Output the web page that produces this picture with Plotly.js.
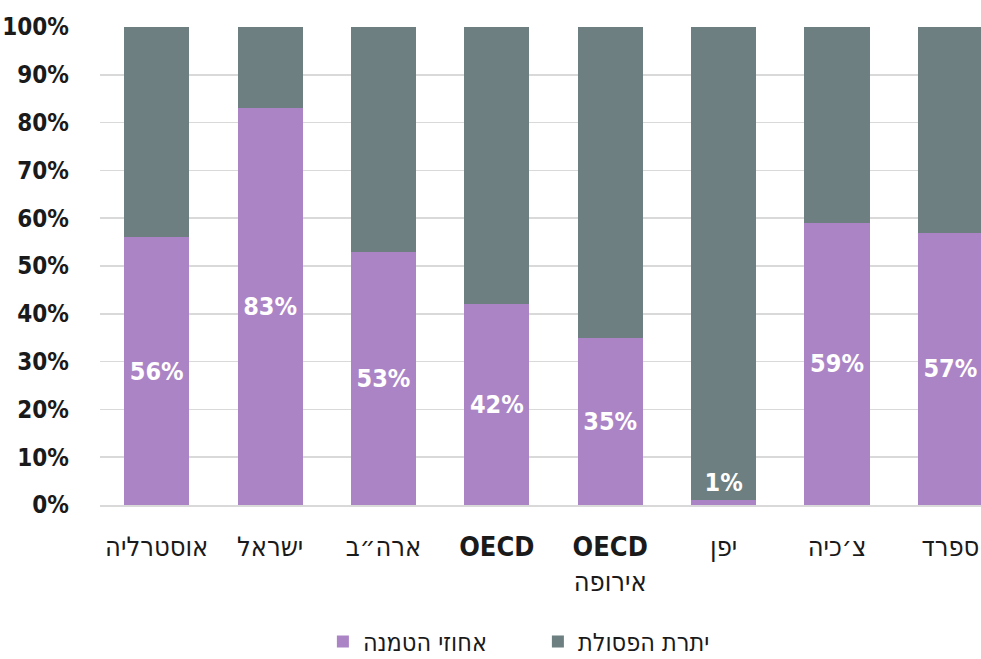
<!DOCTYPE html>
<html>
<head>
<meta charset="utf-8">
<script src="https://cdn.plot.ly/plotly-3.0.1.min.js"></script>
<style>
html,body{margin:0;padding:0;background:#fff;overflow:hidden}
svg text{font-stretch:condensed !important;}
</style>
</head>
<body>
<div id="chart" style="width:981px;height:659px"></div>
<script>
const categories = ['אוסטרליה', 'ישראל', 'ארה״ב', '<b>OECD</b>', '<b>OECD</b><br>אירופה', 'יפן', 'צ׳כיה', 'ספרד'];
const landfillPct = [56, 83, 53, 42, 35, 1, 59, 57];
const restPct = [44, 17, 47, 58, 65, 99, 41, 43];
const landfillName = 'אחוזי הטמנה';
const restName = 'יתרת הפסולת';
const yTicks = [0, 10, 20, 30, 40, 50, 60, 70, 80, 90, 100];
const yTickText = ['0%', '10%', '20%', '30%', '40%', '50%', '60%', '70%', '80%', '90%', '100%'];

const FONT = '"DejaVu Sans", sans-serif';
const PURPLE = '#ab84c6';
const GREY = '#6d7f80';
const SMALL = 5;

const labelFont = {family: FONT, size: 25, color: '#ffffff', weight: 'bold'};

const traces = [
  {
    type: 'bar', name: landfillName, x: categories, y: landfillPct,
    marker: {color: PURPLE},
    text: landfillPct.map(v => v < SMALL ? '' : v + '%'),
    textposition: 'inside',
    insidetextanchor: 'middle',
    constraintext: 'none',
    textfont: labelFont, insidetextfont: labelFont,
    hoverinfo: 'skip'
  },
  {
    type: 'bar', name: restName, x: categories, y: restPct,
    marker: {color: GREY},
    text: landfillPct.map(v => v < SMALL ? v + '%' : ''),
    textposition: 'inside',
    insidetextanchor: 'start',
    constraintext: 'none',
    textfont: labelFont, insidetextfont: labelFont,
    hoverinfo: 'skip'
  }
];

const layout = {
  width: 981, height: 659,
  barmode: 'stack',
  bargap: 0.426,
  paper_bgcolor: '#ffffff', plot_bgcolor: '#ffffff',
  margin: {l: 100, r: 0, t: 27, b: 154, autoexpand: false},
  font: {family: FONT, color: '#1a1a1a'},
  xaxis: {
    type: 'category',
    range: [-0.5, 7.27],
    tickfont: {family: FONT, size: 27, color: '#1a1a1a'},
    showgrid: false, zeroline: false,
    showline: true, linecolor: '#d9d9d9', linewidth: 1.5,
    ticks: '', ticklabelstandoff: 17
  },
  yaxis: {
    range: [0, 100],
    tickmode: 'array',
    tickvals: yTicks,
    ticktext: yTickText,
    tickfont: {family: FONT, size: 24, color: '#1a1a1a', weight: 'bold'},
    showgrid: true, gridcolor: '#d9d9d9', gridwidth: 1.5,
    zeroline: false, showline: false,
    ticks: '', ticklabelstandoff: 30
  },
  legend: {
    orientation: 'h', x: 0.253, xanchor: 'left', y: -0.286, yanchor: 'middle',
    font: {family: FONT, size: 25, color: '#1a1a1a'},
    traceorder: 'normal', itemwidth: 30,
    entrywidth: 170, entrywidthmode: 'pixels'
  },
  showlegend: true
};

Plotly.newPlot('chart', traces, layout, {displayModeBar: false, staticPlot: true});
</script>
</body>
</html>
